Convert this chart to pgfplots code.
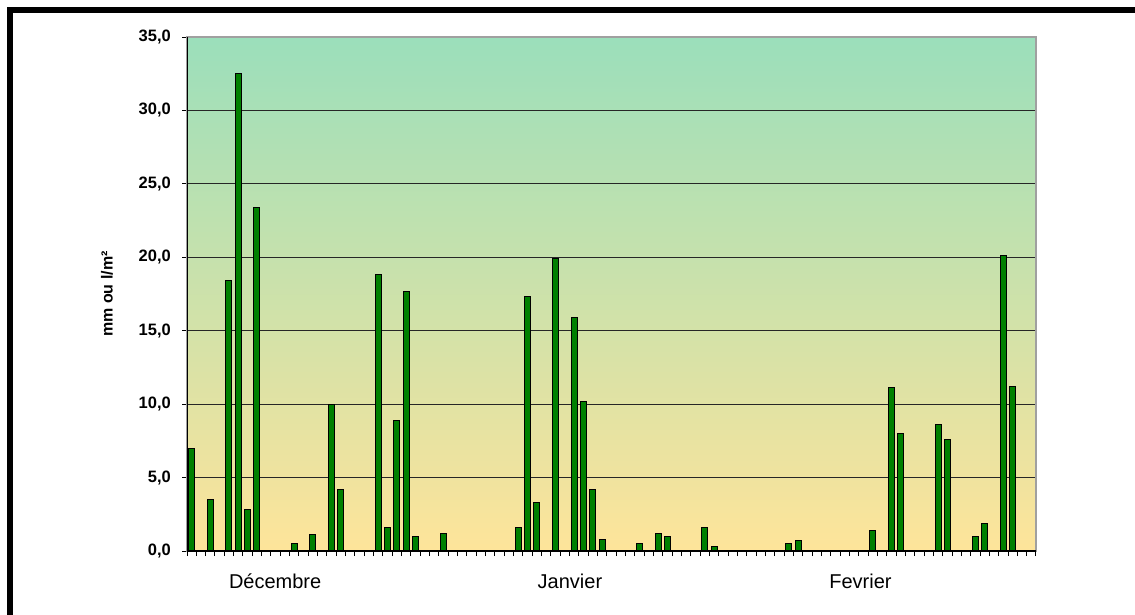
\documentclass[border=0pt]{standalone}
\usepackage{fontspec}
\setmainfont{Liberation Sans}
\usepackage{pgfplots}
\pgfplotsset{compat=1.18}

\definecolor{bargreen}{HTML}{008000}
\definecolor{bgtop}{HTML}{9BDFBB}
\definecolor{bgbottom}{HTML}{FEE49A}
\definecolor{frame}{HTML}{A0A0A0}

\begin{document}
\begin{tikzpicture}
\useasboundingbox (0,0) rectangle (1135pt,-615pt);
\draw[line width=6pt] (10pt,-620pt) -- (10pt,-10pt) -- (1140pt,-10pt);

\begin{axis}[
    at={(187pt,-551pt)}, anchor=south west,
    scale only axis,
    width=849pt, height=514pt,
    xmin=-0.5, xmax=90.5,
    ymin=0, ymax=35,
    ybar, bar width=6pt,
    axis background/.style={top color=bgtop, bottom color=bgbottom},
    axis line style={draw=frame, line width=1.5pt},
    ymajorgrids,
    major grid style={black!85, line width=1.1pt},
    tick align=outside,
    ytick pos=left, xtick pos=bottom,
    major tick length=5pt,
    tick style={black, line width=1pt},
    ytick={0,5,...,35},
    /pgf/number format/.cd, fixed, fixed zerofill, precision=1, use comma, assume math mode=true,
    /pgfplots/.cd,
    yticklabel style={font=\bfseries\fontsize{16.5}{16.5}\selectfont, inner sep=0pt, xshift=-11pt},
    xtick={-0.5,0.5,...,90.5},
    xticklabels={},
    extra x ticks={8.95,40.55,71.69},
    extra x tick labels={Décembre,Janvier,Fevrier},
    extra x tick style={major tick length=0pt,
        xticklabel style={font=\fontsize{20}{20}\selectfont, inner sep=0pt, anchor=base, yshift=-37pt}},
    ylabel={mm ou l/m²},
    every axis y label/.style={at={(axis description cs:-0.0942,0.5)}, rotate=90, anchor=center,
        font=\bfseries\fontsize{16}{16}\selectfont},
]
\addplot[fill=bargreen, draw=black, line width=1pt] coordinates {
    (0,7.0) (2,3.5) (4,18.4) (5,32.5) (6,2.8) (7,23.4)
    (11,0.5) (13,1.1) (15,10.0) (16,4.2)
    (20,18.8) (21,1.6) (22,8.9) (23,17.7) (24,1.0) (27,1.2)
    (35,1.6) (36,17.3) (37,3.3) (39,19.9)
    (41,15.9) (42,10.2) (43,4.2) (44,0.8) (48,0.5)
    (50,1.2) (51,1.0) (55,1.6) (56,0.3)
    (64,0.5) (65,0.7) (73,1.4) (75,11.1) (76,8.0)
    (80,8.6) (81,7.6) (84,1.0) (85,1.9) (87,20.1) (88,11.2)
};
\draw[black, line width=1.5pt] (rel axis cs:0,0) -- (rel axis cs:0,1);
\draw[black, line width=1.5pt] (rel axis cs:0,0) -- (rel axis cs:1,0);
\end{axis}
\end{tikzpicture}
\end{document}
